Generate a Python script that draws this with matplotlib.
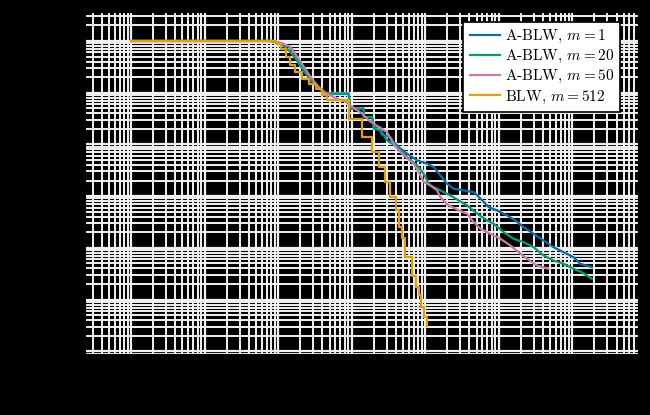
import numpy as np
import matplotlib
matplotlib.use('Agg')
from matplotlib import pyplot as plt

plt.rcParams['font.family'] = 'serif'
plt.rcParams['font.serif'] = ['cmr10']
plt.rcParams['mathtext.fontset'] = 'cm'
plt.rcParams['axes.formatter.use_mathtext'] = True

BLUE = '#0072B2'
GREEN = '#009E73'
PINK = '#CC79A7'
ORANGE = '#E69F00'
GRID = '#f2f2f2'
BG = 'black'  # background of the reference picture

# A-BLW, m = 1
x_m1 = [1, 78.8, 114.8, 147.4, 183.5, 228.4, 284.3, 353.9, 464.7, 913.2, 942.3,
        1460, 1460, 1899, 1997, 2462, 2541, 3367, 3733, 4603, 5677, 7762, 10612,
        13050, 16090, 19840, 24390, 33360, 45600, 56230, 72930, 94820, 129700,
        168100, 217900, 298000, 407500, 557000, 761800, 1041000, 1284000, 1852000]
y_m1 = [1, 1, 0.883, 0.739, 0.484, 0.296, 0.181, 0.127, 0.0959, 0.0959, 0.0492,
        0.0492, 0.0338, 0.0338, 0.0217, 0.0217, 0.01564, 0.01387, 0.0111, 0.00827,
        0.00662, 0.00491, 0.00424, 0.00364, 0.00252, 0.00174, 0.00139, 0.00129,
        0.001196, 9.03e-4, 6.13e-4, 5.29e-4, 4.23e-4, 3.39e-4, 2.51e-4, 1.87e-4,
        1.39e-4, 1.03e-4, 8.25e-5, 6.60e-5, 4.92e-5, 4.23e-5]

# A-BLW, m = 20
x_m20 = [1, 78.8, 107.8, 139.8, 172.4, 212.5, 275.5, 357.3, 464.7, 913.2, 942.3,
         1460, 1460, 1899, 1997, 2462, 3036, 4152, 5677, 7762, 9541, 10612, 11769,
         16090, 21990, 37100, 50720, 69340, 85240, 116600, 159400, 217900, 298000,
         407500, 557000, 761800, 1041000, 1355000, 1852000]
y_m20 = [1, 1, 0.890, 0.661, 0.456, 0.292, 0.1735, 0.120, 0.0959, 0.0959, 0.0492,
         0.0492, 0.0338, 0.0338, 0.0202, 0.0187, 0.01197, 0.00888, 0.00569, 0.00393,
         0.00271, 0.00201, 0.00161, 0.00129, 0.00103, 6.61e-4, 4.63e-4, 3.39e-4,
         2.92e-4, 2.01e-4, 1.50e-4, 1.29e-4, 1.03e-4, 7.12e-5, 5.70e-5, 4.92e-5,
         3.94e-5, 3.38e-5, 2.52e-5]

# A-BLW, m = 50
x_m50 = [1, 83.9, 113.7, 147.4, 181.8, 223.5, 275.5, 339.8, 417.8, 571.2, 704.4,
         823.7, 1016, 1389, 1708, 2334, 3036, 3551, 4152, 5105, 6981, 8159, 9541,
         11769, 14510, 16090, 19840, 27130, 37100, 43380, 56230, 76900, 105100,
         143800, 186400, 242400, 331500, 476400]
y_m50 = [1, 1, 0.890, 0.765, 0.490, 0.314, 0.201, 0.1389, 0.103, 0.0824, 0.0712,
         0.0681, 0.0528, 0.0394, 0.0292, 0.0217, 0.0171, 0.01145, 0.00838, 0.00614,
         0.00424, 0.00291, 0.00187, 0.00161, 0.00129, 9.57e-4, 6.91e-4, 5.53e-4,
         4.57e-4, 3.39e-4, 2.34e-4, 1.87e-4, 1.50e-4, 1.11e-4, 8.25e-5, 6.15e-5,
         4.56e-5, 3.94e-5]

# BLW, m = 512 (staircase)
x_blw = [1, 74.1, 92.2, 108, 126, 147, 172, 213, 261, 322, 397, 465, 927, 1390,
         1900, 2335, 2879, 3366, 4063, 4460, 4898, 5383, 6637, 7590, 8206, 8876,
         9600, 10617]
y_blw = [1, 1, 0.890, 0.713, 0.490, 0.339, 0.251, 0.187, 0.150, 0.120, 0.0889,
         0.0712, 0.0312, 0.0137, 0.00701, 0.00360, 0.00187, 9.44e-4, 5.30e-4,
         2.48e-4, 1.52e-4, 6.61e-5, 2.92e-5, 1.73e-5, 1.20e-5, 7.11e-6, 4.55e-6,
         3.15e-6]

series = [
    (x_m1, y_m1, BLUE, r'A-BLW, $m = 1$', 'default'),
    (x_m20, y_m20, GREEN, r'A-BLW, $m = 20$', 'default'),
    (x_m50, y_m50, PINK, r'A-BLW, $m = 50$', 'default'),
    (x_blw, y_blw, ORANGE, r'BLW, $m = 512$', 'steps-post'),
]

fig = plt.figure(figsize=(6.5, 4.15), dpi=100, facecolor=BG)
ax = fig.add_axes([0.1308, 0.147, 0.8508, 0.8229], facecolor=BG)

for xs, ys, color, label, ds in series:
    ax.plot(xs, ys, color=color, lw=1.6, label=label, drawstyle=ds)

ax.set_xscale('log')
ax.set_yscale('log')
ax.margins(0.1)

ax.grid(True, which='major', color=GRID, lw=1.6)
ax.grid(True, which='minor', color=GRID, lw=1.4)
ax.set_axisbelow(True)
for sp in ax.spines.values():
    sp.set_color('black')

leg = ax.legend(loc='upper right', bbox_to_anchor=(0.9675, 0.972),
                borderaxespad=0, fancybox=False, framealpha=1,
                edgecolor='black', fontsize=11, labelspacing=0.2,
                handletextpad=0.3)
leg.get_frame().set_linewidth(1.2)

fig.savefig('out.png', dpi=100, facecolor=BG)
